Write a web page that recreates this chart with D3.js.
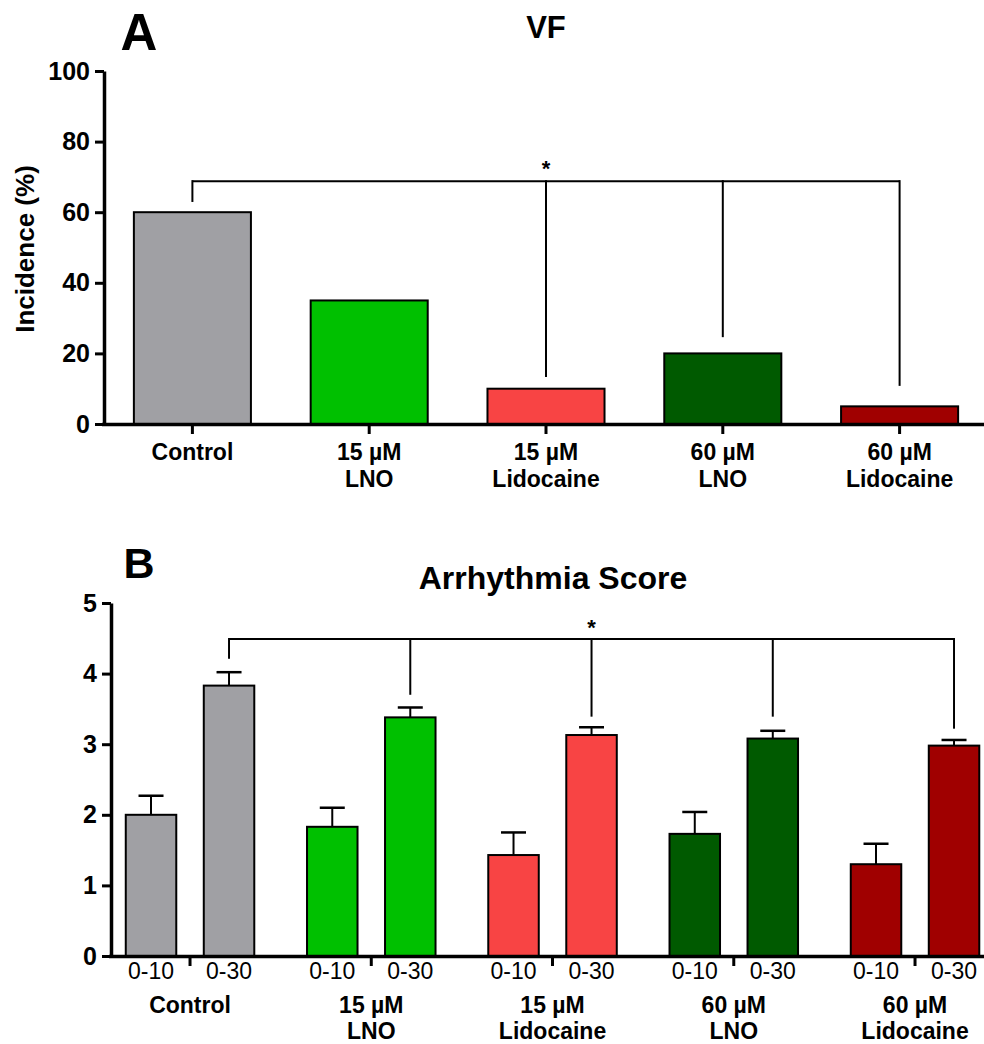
<!DOCTYPE html>
<html><head><meta charset="utf-8">
<script src="https://cdn.jsdelivr.net/npm/d3@7"></script>
<style>body{margin:0;background:#fff}svg{display:block}text{font-family:"Liberation Sans",Arial,sans-serif}</style>
</head><body>
<svg id="c" width="984" height="1044"></svg>
<script>
// ---------- DATA ----------
const groups = ["Control", "15 µM\nLNO", "15 µM\nLidocaine", "60 µM\nLNO", "60 µM\nLidocaine"];
const colors = ["#a0a0a4", "#00c000", "#f84444", "#005a00", "#a00000"];
// Panel A: VF incidence (%)
const vfIncidence = [60, 35, 10, 20, 5];
const vfTicks = [0, 20, 40, 60, 80, 100];
const vfBracketY = 68.8;
const vfBracketEnds = [62.9, null, 13.3, 24.6, 10.8];
// Panel B: Arrhythmia score
const periods = ["0-10", "0-30"];
const score010 = [2.0, 1.83, 1.43, 1.73, 1.30];
const score030 = [3.83, 3.38, 3.13, 3.08, 2.98];
const err010 = [0.27, 0.27, 0.32, 0.31, 0.29];
const err030 = [0.19, 0.14, 0.11, 0.11, 0.08];
const scoreTicks = [0, 1, 2, 3, 4, 5];
const scBracketY = 4.49;
const scBracketEnds = [4.21, 3.70, 3.39, 3.39, 3.22];

const svg = d3.select("#c");
const F = '"Liberation Sans",Arial,sans-serif';

function multiLabel(sel, txt, lineH) {
  const lines = txt.split("\n");
  lines.forEach((l, i) => sel.append("tspan").attr("x", 0).attr("dy", i === 0 ? 0 : lineH).text(l));
}

// ---------- PANEL A ----------
{
  const y = d3.scaleLinear().domain([0, 100]).range([424, 71]);
  const x = d3.scaleBand().domain(groups).range([104, 988]).paddingInner(0.338).paddingOuter(0.169);
  const g = svg.append("g");

  g.selectAll("rect.bar").data(groups).enter().append("rect")
    .attr("x", d => x(d)).attr("width", x.bandwidth())
    .attr("y", (d, i) => y(vfIncidence[i])).attr("height", (d, i) => y(0) - y(vfIncidence[i]))
    .attr("fill", (d, i) => colors[i]).attr("stroke", "#000").attr("stroke-width", 2);

  // y axis
  const ya = g.append("g").attr("transform", "translate(104,0)")
    .call(d3.axisLeft(y).tickValues(vfTicks).tickFormat(d3.format("d")).tickSize(9).tickSizeOuter(0).tickPadding(5));
  ya.select(".domain").attr("stroke-width", 3.5);
  ya.selectAll(".tick line").attr("stroke-width", 3);
  ya.selectAll(".tick text").attr("font-size", 25).attr("font-weight", "bold").attr("font-family", F).attr("fill", "#000");

  // x axis
  const xa = g.append("g").attr("transform", "translate(0,424)")
    .call(d3.axisBottom(x).tickSize(10).tickSizeOuter(0).tickPadding(0));
  xa.select(".domain").attr("stroke-width", 3.5).attr("d", "M102,0.5H984");
  xa.selectAll(".tick line").attr("stroke-width", 3);
  xa.selectAll(".tick text").text(null).attr("y", 36).attr("dy", 0)
    .attr("font-size", 23).attr("font-weight", "bold").attr("font-family", F).attr("fill", "#000")
    .each(function (d) { multiLabel(d3.select(this), d, 27); });

  // significance bracket
  const cx = d => x(d) + x.bandwidth() / 2;
  const ends = groups.map((d, i) => ({ d, v: vfBracketEnds[i] })).filter(e => e.v !== null);
  g.append("line").attr("x1", cx(groups[0])).attr("x2", cx(groups[4]))
    .attr("y1", y(vfBracketY)).attr("y2", y(vfBracketY)).attr("stroke", "#000").attr("stroke-width", 2);
  g.selectAll("line.br").data(ends).enter().append("line")
    .attr("x1", e => cx(e.d)).attr("x2", e => cx(e.d))
    .attr("y1", y(vfBracketY) - 1).attr("y2", e => y(e.v)).attr("stroke", "#000").attr("stroke-width", 2);
  g.append("text").attr("x", cx(groups[2])).attr("y", y(vfBracketY) - 5).attr("text-anchor", "middle")
    .attr("font-size", 22).attr("font-weight", "bold").text("*");

  g.append("text").attr("x", 546).attr("y", 38).attr("text-anchor", "middle")
    .attr("font-size", 31).attr("font-weight", "bold").text("VF");
  g.append("text").attr("x", 139).attr("y", 50).attr("text-anchor", "middle")
    .attr("font-size", 51).attr("font-weight", "bold").text("A");
  g.append("text").attr("transform", "translate(34,249) rotate(-90)").attr("text-anchor", "middle")
    .attr("font-size", 26).attr("font-weight", "bold").text("Incidence (%)");
}

// ---------- PANEL B ----------
{
  const y = d3.scaleLinear().domain([0, 5]).range([956, 603]);
  const x0 = d3.scaleBand().domain(groups).range([99.4, 99.4 + 5 * 181.25]).padding(0);
  const x1 = d3.scaleBand().domain(periods).range([0, x0.bandwidth()]).paddingInner(0.3526).paddingOuter(0.338);
  const g = svg.append("g");

  const rows = [];
  groups.forEach((gr, i) => {
    rows.push({ g: gr, p: periods[0], v: score010[i], e: err010[i], c: colors[i], i });
    rows.push({ g: gr, p: periods[1], v: score030[i], e: err030[i], c: colors[i], i });
  });
  const bx = r => x0(r.g) + x1(r.p);
  const bc = r => bx(r) + x1.bandwidth() / 2;

  // error bars (upper only)
  g.selectAll("line.eb").data(rows).enter().append("line")
    .attr("x1", bc).attr("x2", bc).attr("y1", r => y(r.v)).attr("y2", r => y(r.v + r.e))
    .attr("stroke", "#000").attr("stroke-width", 2);
  g.selectAll("line.cap").data(rows).enter().append("line")
    .attr("x1", r => bc(r) - 12.5).attr("x2", r => bc(r) + 12.5).attr("y1", r => y(r.v + r.e)).attr("y2", r => y(r.v + r.e))
    .attr("stroke", "#000").attr("stroke-width", 2.5);

  g.selectAll("rect.bar").data(rows).enter().append("rect")
    .attr("x", bx).attr("width", x1.bandwidth())
    .attr("y", r => y(r.v)).attr("height", r => y(0) - y(r.v))
    .attr("fill", r => r.c).attr("stroke", "#000").attr("stroke-width", 2);

  const ya = g.append("g").attr("transform", "translate(111,0)")
    .call(d3.axisLeft(y).tickValues(scoreTicks).tickFormat(d3.format("d")).tickSize(9).tickSizeOuter(0).tickPadding(5));
  ya.select(".domain").attr("stroke-width", 3.5);
  ya.selectAll(".tick line").attr("stroke-width", 3);
  ya.selectAll(".tick text").attr("font-size", 25).attr("font-weight", "bold").attr("font-family", F).attr("fill", "#000");

  const xa = g.append("g").attr("transform", "translate(0,956)")
    .call(d3.axisBottom(x0).tickSize(10).tickSizeOuter(0).tickPadding(0));
  xa.select(".domain").attr("stroke-width", 3.5).attr("d", "M109,0.5H984");
  xa.selectAll(".tick line").attr("stroke-width", 3);
  xa.selectAll(".tick text").text(null).attr("y", 57).attr("dy", 0)
    .attr("font-size", 23).attr("font-weight", "bold").attr("font-family", F).attr("fill", "#000")
    .each(function (d) { multiLabel(d3.select(this), d, 26); });

  // period labels
  g.selectAll("text.per").data(rows).enter().append("text")
    .attr("x", bc).attr("y", 979).attr("text-anchor", "middle")
    .attr("font-size", 23).attr("fill", "#000").text(r => r.p);

  // significance bracket at 0-30 bars
  const r30 = rows.filter(r => r.p === periods[1]);
  g.append("line").attr("x1", bc(r30[0])).attr("x2", bc(r30[4]))
    .attr("y1", y(scBracketY)).attr("y2", y(scBracketY)).attr("stroke", "#000").attr("stroke-width", 2);
  g.selectAll("line.br").data(r30).enter().append("line")
    .attr("x1", bc).attr("x2", bc).attr("y1", y(scBracketY) - 1).attr("y2", r => y(scBracketEnds[r.i]))
    .attr("stroke", "#000").attr("stroke-width", 2);
  g.append("text").attr("x", bc(r30[2])).attr("y", y(scBracketY) - 4).attr("text-anchor", "middle")
    .attr("font-size", 22).attr("font-weight", "bold").text("*");

  g.append("text").attr("x", 553).attr("y", 589).attr("text-anchor", "middle")
    .attr("font-size", 32).attr("font-weight", "bold").text("Arrhythmia Score");
  g.append("text").attr("x", 139).attr("y", 578).attr("text-anchor", "middle")
    .attr("font-size", 43).attr("font-weight", "bold").text("B");
}
</script>
</body></html>
